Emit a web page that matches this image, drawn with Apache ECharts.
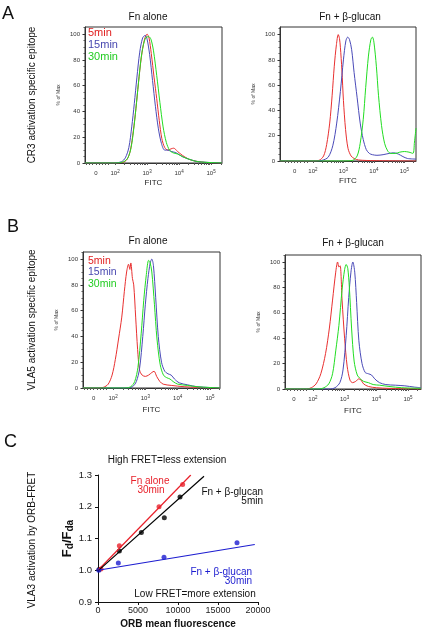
<!DOCTYPE html>
<html><head><meta charset="utf-8">
<script src="https://cdn.jsdelivr.net/npm/echarts@6/dist/echarts.min.js"></script>
<style>html,body{margin:0;padding:0;background:#fff}#c{width:424px;height:630px}</style>
</head><body><div id="c"></div>
<script>
// ---------- data ----------
const timeNames = ['5min', '15min', '30min'];
const panelTitles = ['Fn alone', 'Fn + β-glucan'];
// FITC axis in decades (biexponential display): "0" sits at ~1.4
const fitcTickVals = [1.4, 2, 3, 4, 5];
const fitcTickLabels = ['0', '10{s|2}', '10{s|3}', '10{s|4}', '10{s|5}'];
const pctLabelVals = [0, 20, 40, 60, 80, 100];

// Panel A, Fn alone  [log10 FITC, % of max]
const aLeft5 = [[1.06,0],[2.0,0],[2.25,0.5],[2.38,3],[2.48,10],[2.57,25],[2.65,42],[2.73,62],[2.82,82],[2.92,96],[3.0,100],[3.06,97],[3.13,85],[3.22,66],[3.3,50],[3.38,33],[3.46,19],[3.55,12],[3.65,10],[3.75,11],[3.83,11.5],[3.95,9],[4.1,6],[4.3,3],[4.5,1.5],[4.8,0.5],[5.34,0]];
const aLeft15 = [[1.06,0],[2.0,0],[2.2,1],[2.32,4],[2.43,12],[2.52,28],[2.6,46],[2.68,66],[2.77,86],[2.86,97],[2.94,99],[3.0,96],[3.08,84],[3.17,64],[3.26,44],[3.35,27],[3.45,15],[3.55,10],[3.65,10],[3.75,9],[3.9,8],[4.1,5],[4.3,3],[4.6,1],[5.34,0]];
const aLeft30 = [[1.06,0],[2.0,0],[2.27,1],[2.4,4],[2.5,12],[2.59,28],[2.67,47],[2.75,67],[2.84,86],[2.95,97],[3.05,98],[3.12,96],[3.2,87],[3.3,68],[3.4,47],[3.5,28],[3.6,16],[3.7,10],[3.8,8],[3.95,7],[4.1,5],[4.3,3],[4.6,1],[5.34,0]];
// Panel A, Fn + beta-glucan
const aRight5 = [[0.92,0],[2.0,0],[2.2,0.5],[2.35,4],[2.45,13],[2.55,30],[2.63,52],[2.7,75],[2.77,92],[2.83,100],[2.87,97],[2.9,90],[2.95,72],[3.0,48],[3.07,25],[3.15,10],[3.25,4],[3.35,2],[3.5,0.8],[4.0,0.3],[5.38,0]];
const aRight15 = [[0.92,0],[2.1,0],[2.3,0.5],[2.5,3],[2.65,12],[2.78,30],[2.9,55],[3.0,80],[3.08,95],[3.14,98],[3.2,96],[3.27,88],[3.35,70],[3.45,50],[3.55,30],[3.65,17],[3.75,9],[3.85,6],[3.95,5],[4.1,4.5],[4.3,5],[4.5,6],[4.65,6.5],[4.8,5.5],[4.95,3.5],[5.1,2],[5.38,1.5]];
const aRight30 = [[0.92,0],[3.0,0],[3.3,0.5],[3.45,4],[3.55,14],[3.65,33],[3.73,58],[3.82,83],[3.9,96],[3.95,98],[4.0,94],[4.08,75],[4.15,52],[4.25,28],[4.35,14],[4.45,8],[4.55,6],[4.7,6],[4.85,7],[5.0,7.5],[5.15,7],[5.28,6],[5.33,15],[5.38,26]];
// Panel B, Fn alone
const bLeft5 = [[1.07,0],[1.5,0],[1.7,0.5],[1.85,3],[1.97,10],[2.07,22],[2.17,38],[2.27,55],[2.35,75],[2.42,90],[2.48,96],[2.52,92],[2.55,97],[2.6,85],[2.64,80],[2.7,55],[2.76,30],[2.82,14],[2.9,10],[3.0,9],[3.1,10],[3.2,12],[3.27,13],[3.35,9],[3.45,5],[3.55,3],[3.8,2],[4.2,1],[4.6,0.5],[5.31,0]];
const bLeft15 = [[1.07,0],[2.4,0],[2.6,1],[2.72,5],[2.82,15],[2.92,40],[3.0,65],[3.08,85],[3.15,97],[3.2,100],[3.25,95],[3.32,70],[3.4,40],[3.5,20],[3.6,13],[3.7,11],[3.8,10],[3.9,7],[4.05,4],[4.3,2.5],[4.6,1],[5.31,0]];
const bLeft30 = [[1.07,0],[2.4,0],[2.55,1],[2.67,5],[2.77,16],[2.87,42],[2.95,68],[3.03,88],[3.1,99],[3.14,98],[3.2,90],[3.28,65],[3.36,38],[3.46,18],[3.56,10],[3.66,8],[3.76,7],[3.86,5],[4.0,3],[4.3,2],[4.6,1],[5.31,0]];
// Panel B, Fn + beta-glucan
const bRight5 = [[1.12,0],[1.8,0],[1.95,1],[2.1,4],[2.25,12],[2.4,28],[2.52,48],[2.62,70],[2.72,92],[2.78,100],[2.82,96],[2.86,97],[2.92,70],[3.0,40],[3.08,18],[3.17,7],[3.25,5],[3.35,6],[3.45,8],[3.52,7],[3.6,4],[3.75,2],[4.0,1],[4.4,0.5],[5.41,0]];
const bRight15 = [[1.12,0],[2.55,0],[2.7,1],[2.85,5],[2.95,15],[3.05,42],[3.13,72],[3.2,92],[3.26,100],[3.32,92],[3.38,68],[3.45,38],[3.55,20],[3.65,13],[3.75,12],[3.85,11],[3.95,8],[4.1,5],[4.3,3.5],[4.6,3],[4.9,2.5],[5.2,1.5],[5.41,1]];
const bRight30 = [[1.12,0],[2.2,0],[2.35,1],[2.5,4],[2.62,12],[2.72,30],[2.82,50],[2.92,78],[3.0,94],[3.05,98],[3.1,95],[3.15,80],[3.22,48],[3.3,22],[3.4,11],[3.5,8],[3.6,6],[3.75,5],[3.9,3.5],[4.1,3],[4.4,2],[4.8,1],[5.41,0.5]];

// Panel C: ORB mean fluorescence vs Fd/Fda
const cRedX = [375, 2670, 7625, 10580];
const cRedY = [1.004, 1.077, 1.200, 1.270];
const cBlackX = [125, 2670, 5420, 8290, 10250];
const cBlackY = [1.002, 1.061, 1.119, 1.165, 1.231];
const cBlueX = [100, 2540, 8250, 17375];
const cBlueY = [1.000, 1.023, 1.041, 1.087];
const cRedFitX = [0, 11600];
const cRedFitY = [1.000, 1.300];
const cBlackFitX = [0, 13250];
const cBlackFitY = [0.998, 1.296];
const cBlueFitX = [0, 19600];
const cBlueFitY = [1.000, 1.081];

// ---------- styling / layout ----------
const FONT = '"Liberation Sans", Arial, sans-serif';
const lineColors = ['#e83030', '#4a4ab8', '#22dd22'];
const legendColors = ['#e02020', '#4848b0', '#22cc22'];
const cRed = '#e8202a', cBlack = '#000000', cBlue = '#1c1cd0';

const grids = [
  {left: 85, right: 202, top: 27, height: 136},
  {left: 280, right: 8, top: 27, height: 134},
  {left: 83, right: 204, top: 252, height: 136},
  {left: 285, right: 3, top: 255, height: 134},
  {left: 98, right: 166, top: 475, height: 127}
];
const xRanges = [[1.06, 5.34], [0.92, 5.38], [1.07, 5.31], [1.12, 5.41]];
const yMax = [105.5, 106, 105.5, 105.5];
const nameGapsX = [16, 16, 18, 18];

const minorX = [1.1, 1.2, 1.3, 1.5, 1.6, 1.7, 1.8];
for (let d = 2; d <= 5; d++) for (let k = 2; k <= 9; k++) minorX.push(d + Math.log10(k));

function fitcAxis(gi) {
  const [mn, mx] = xRanges[gi];
  const ticks = fitcTickVals.concat(minorX).filter(v => v >= mn && v <= mx);
  return {
    type: 'value', gridIndex: gi, min: mn, max: mx,
    name: 'FITC', nameLocation: 'middle', nameGap: nameGapsX[gi],
    nameTextStyle: {fontSize: 8, color: '#222', fontFamily: FONT},
    axisLine: {onZero: false, lineStyle: {color: '#333', width: 1}},
    splitLine: {show: false},
    axisTick: {customValues: ticks, length: 2, lineStyle: {color: '#555'}},
    axisLabel: {
      customValues: fitcTickVals, fontSize: 6, color: '#333', margin: 6, fontFamily: FONT, lineHeight: 9,
      formatter: v => { const i = fitcTickVals.findIndex(t => Math.abs(t - v) < 1e-6); return i >= 0 ? fitcTickLabels[i] : ''; },
      rich: {s: {fontSize: 4.5, verticalAlign: 'top', lineHeight: 9, color: '#333', fontFamily: FONT}}
    }
  };
}
function pctAxis(gi) {
  return {
    type: 'value', gridIndex: gi, min: 0, max: yMax[gi], interval: 20,
    name: '% of Max', nameLocation: 'middle', nameGap: 24,
    nameTextStyle: {fontSize: 5, color: '#333', fontFamily: FONT},
    axisLine: {show: true, lineStyle: {color: '#333', width: 1}},
    axisTick: {show: true, customValues: pctLabelVals, length: 2.5, lineStyle: {color: '#333'}},
    minorTick: {show: true, splitNumber: 4, length: 1.5, lineStyle: {color: '#555'}},
    splitLine: {show: false},
    axisLabel: {customValues: pctLabelVals, fontSize: 6, color: '#333', margin: 5, fontFamily: FONT}
  };
}
function flowSeries(gi, curves) {
  return curves.map((d, i) => ({
    type: 'line', name: timeNames[i], xAxisIndex: gi, yAxisIndex: gi, data: d,
    smooth: 0.3, symbol: 'none', silent: true,
    lineStyle: {width: 1, color: lineColors[i]}, itemStyle: {color: lineColors[i]}
  }));
}
function legendFor(top, fs, lh) {
  return {
    orient: 'vertical', left: 83, top: top, padding: 0, itemGap: 0.5,
    itemWidth: 0, itemHeight: 0, icon: 'rect', selectedMode: false,
    textStyle: {fontSize: fs, lineHeight: lh, fontFamily: FONT},
    data: timeNames.map((n, i) => ({name: n, textStyle: {color: legendColors[i]}}))
  };
}
function txt(text, x, y, opts) {
  opts = opts || {};
  return {
    type: 'text', x: x, y: y, rotation: opts.rot || 0, silent: true,
    style: {
      text: text, fill: opts.color || '#111',
      font: (opts.weight || 'normal') + ' ' + (opts.size || 10) + 'px ' + FONT,
      align: opts.align || 'center', verticalAlign: 'middle',
      textAlign: opts.align || 'center', textVerticalAlign: 'middle'
    }
  };
}

const cX = {
  type: 'value', gridIndex: 4, min: 0, max: 20000, interval: 5000,
  name: 'ORB mean fluorescence', nameLocation: 'middle', nameGap: 17,
  nameTextStyle: {fontSize: 10, fontWeight: 'bold', color: '#111', fontFamily: FONT},
  axisLine: {onZero: false, lineStyle: {color: '#111', width: 1}},
  axisTick: {length: 3, lineStyle: {color: '#111'}},
  splitLine: {show: false},
  axisLabel: {fontSize: 9, color: '#222', margin: 4, fontFamily: FONT, formatter: v => String(v)}
};
const cY = {
  type: 'value', gridIndex: 4, min: 0.9, max: 1.3, interval: 0.1,
  name: 'F{sub|d}/F{sub|da}', nameLocation: 'middle', nameGap: 23,
  nameTextStyle: {fontSize: 13, fontWeight: 'bold', color: '#111', fontFamily: FONT, lineHeight: 15,
    rich: {sub: {fontSize: 10, fontWeight: 'bold', verticalAlign: 'bottom', lineHeight: 15, color: '#111', fontFamily: FONT}}},
  axisLine: {show: true, lineStyle: {color: '#111', width: 1}},
  axisTick: {show: true, length: 3, lineStyle: {color: '#111'}},
  splitLine: {show: false},
  axisLabel: {fontSize: 9.5, color: '#222', margin: 6, fontFamily: FONT, formatter: v => v.toFixed(1)}
};
const zip = (xs, ys) => xs.map((x, i) => [x, ys[i]]);

const series = []
  .concat(flowSeries(0, [aLeft5, aLeft15, aLeft30]))
  .concat(flowSeries(1, [aRight5, aRight15, aRight30]))
  .concat(flowSeries(2, [bLeft5, bLeft15, bLeft30]))
  .concat(flowSeries(3, [bRight5, bRight15, bRight30]))
  .concat([
    {type: 'line', name: 'Fn alone 30min fit', xAxisIndex: 4, yAxisIndex: 4, data: zip(cRedFitX, cRedFitY), symbol: 'none', lineStyle: {color: cRed, width: 1.2}, silent: true},
    {type: 'line', name: 'Fn + β-glucan 5min fit', xAxisIndex: 4, yAxisIndex: 4, data: zip(cBlackFitX, cBlackFitY), symbol: 'none', lineStyle: {color: cBlack, width: 1.2}, silent: true},
    {type: 'line', name: 'Fn + β-glucan 30min fit', xAxisIndex: 4, yAxisIndex: 4, data: zip(cBlueFitX, cBlueFitY), symbol: 'none', lineStyle: {color: cBlue, width: 1.2}, silent: true},
    {type: 'scatter', name: 'Fn + β-glucan 5min', xAxisIndex: 4, yAxisIndex: 4, data: zip(cBlackX, cBlackY), symbolSize: 5, itemStyle: {color: cBlack}},
    {type: 'scatter', name: 'Fn alone 30min', xAxisIndex: 4, yAxisIndex: 4, data: zip(cRedX, cRedY), symbolSize: 5, itemStyle: {color: cRed}},
    {type: 'scatter', name: 'Fn + β-glucan 30min', xAxisIndex: 4, yAxisIndex: 4, data: zip(cBlueX, cBlueY), symbolSize: 5, itemStyle: {color: cBlue}}
  ]);

const chart = echarts.init(document.getElementById('c'), null, {renderer: 'canvas'});
chart.setOption({
  animation: false,
  backgroundColor: '#ffffff',
  textStyle: {fontFamily: FONT},
  grid: grids.map((g, i) => Object.assign({containLabel: false, show: i < 4, borderColor: '#333', borderWidth: 1, backgroundColor: 'transparent'}, g)),
  xAxis: [fitcAxis(0), fitcAxis(1), fitcAxis(2), fitcAxis(3), cX],
  yAxis: [pctAxis(0), pctAxis(1), pctAxis(2), pctAxis(3), cY],
  legend: [legendFor(27.3, 11, 11.5), legendFor(255.6, 10.5, 10.7)],
  series: series,
  graphic: [
    txt('A', 2, 14, {size: 18, align: 'left'}),
    txt('B', 7, 227, {size: 18, align: 'left'}),
    txt('C', 4, 442, {size: 18, align: 'left'}),
    txt(panelTitles[0], 148, 17, {size: 10}),
    txt(panelTitles[1], 350, 17, {size: 10}),
    txt(panelTitles[0], 148, 241, {size: 10}),
    txt(panelTitles[1], 353, 243, {size: 10}),
    txt('CR3 activation specific epitope', 32, 95, {size: 10, rot: Math.PI / 2}),
    txt('VLA5 activation specific epitope', 32, 320, {size: 10, rot: Math.PI / 2}),
    txt('VLA3 activation by ORB-FRET', 32, 540, {size: 10, rot: Math.PI / 2}),
    txt('High FRET=less extension', 167, 460, {size: 10}),
    txt('Fn alone', 150, 481, {size: 10, color: cRed}),
    txt('30min', 151, 490, {size: 10, color: cRed}),
    txt('Fn + β-glucan', 263, 492, {size: 10, align: 'right'}),
    txt('5min', 263, 501.5, {size: 10, align: 'right'}),
    txt('Fn + β-glucan', 252, 572, {size: 10, align: 'right', color: cBlue}),
    txt('30min', 252, 581.5, {size: 10, align: 'right', color: cBlue}),
    txt('Low FRET=more extension', 195, 594.5, {size: 10})
  ]
});
</script>
</body></html>
